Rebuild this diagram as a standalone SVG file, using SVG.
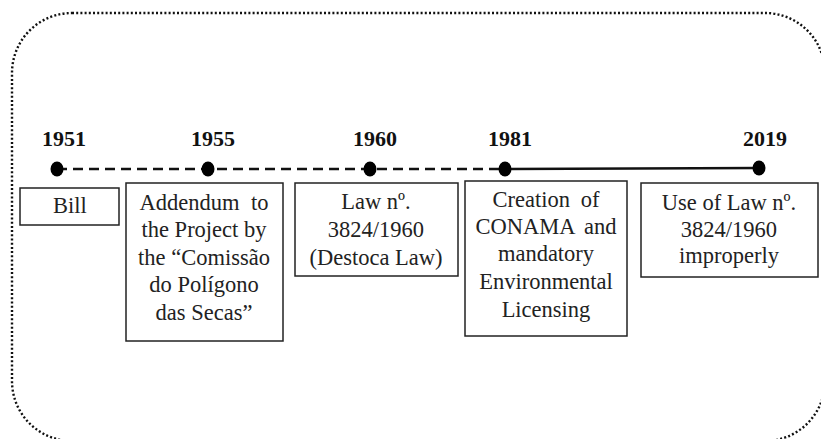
<svg xmlns="http://www.w3.org/2000/svg" width="821" height="439" viewBox="0 0 821 439">
<style>
.frame{fill:none;stroke:#111;stroke-width:2.4;stroke-dasharray:2 2.2}
.box{fill:#fff;stroke:#222;stroke-width:1.5}
.yr{font-family:"Liberation Serif","Times New Roman",serif;font-weight:bold;font-size:22px;fill:#111;text-anchor:middle}
.t{font-family:"Liberation Serif","Times New Roman",serif;font-size:22.5px;fill:#222;text-anchor:middle}
.dot{fill:#000}
</style>
<rect width="821" height="439" fill="#fff"/>
<rect class="frame" x="12" y="13" width="813" height="428" rx="60" ry="60"/>
<g id="connectors">
<line x1="57" y1="169" x2="505" y2="169" stroke="#111" stroke-width="2.5" stroke-dasharray="10 6"/>
<line x1="505" y1="169" x2="759" y2="168" stroke="#111" stroke-width="2.5"/>
</g>
<g id="n1951">
<text class="yr" x="64" y="146">1951</text>
<ellipse class="dot" cx="57" cy="169" rx="6.5" ry="7.5"/>
<rect class="box" x="20" y="188" width="99" height="37"/>
<text class="t" x="70" y="213">Bill</text>
</g>
<g id="n1955">
<text class="yr" x="213" y="146">1955</text>
<ellipse class="dot" cx="208" cy="169" rx="6.5" ry="7.5"/>
<rect class="box" x="126" y="183" width="157" height="158"/>
<text class="t" x="204" y="210" word-spacing="6">Addendum to</text>
<text class="t" x="204" y="237">the Project by</text>
<text class="t" x="204" y="265">the “Comissão</text>
<text class="t" x="204" y="292">do Polígono</text>
<text class="t" x="204" y="320">das Secas”</text>
</g>
<g id="n1960">
<text class="yr" x="375" y="146">1960</text>
<ellipse class="dot" cx="370" cy="169" rx="6.5" ry="7.5"/>
<rect class="box" x="295" y="183" width="163" height="93"/>
<text class="t" x="376" y="209">Law nº.</text>
<text class="t" x="376" y="237">3824/1960</text>
<text class="t" x="376" y="265">(Destoca Law)</text>
</g>
<g id="n1981">
<text class="yr" x="510" y="146">1981</text>
<ellipse class="dot" cx="505" cy="169" rx="6.5" ry="7.5"/>
<rect class="box" x="465" y="181" width="162" height="155"/>
<text class="t" x="546" y="207" word-spacing="5">Creation of</text>
<text class="t" x="546" y="234" word-spacing="4">CONAMA and</text>
<text class="t" x="546" y="261">mandatory</text>
<text class="t" x="546" y="289">Environmental</text>
<text class="t" x="546" y="317">Licensing</text>
</g>
<g id="n2019">
<text class="yr" x="765" y="146">2019</text>
<ellipse class="dot" cx="759" cy="168" rx="6.5" ry="7.5"/>
<rect class="box" x="641" y="183" width="177" height="94"/>
<text class="t" x="729" y="210">Use of Law nº.</text>
<text class="t" x="729" y="237">3824/1960</text>
<text class="t" x="729" y="263">improperly</text>
</g>
</svg>
